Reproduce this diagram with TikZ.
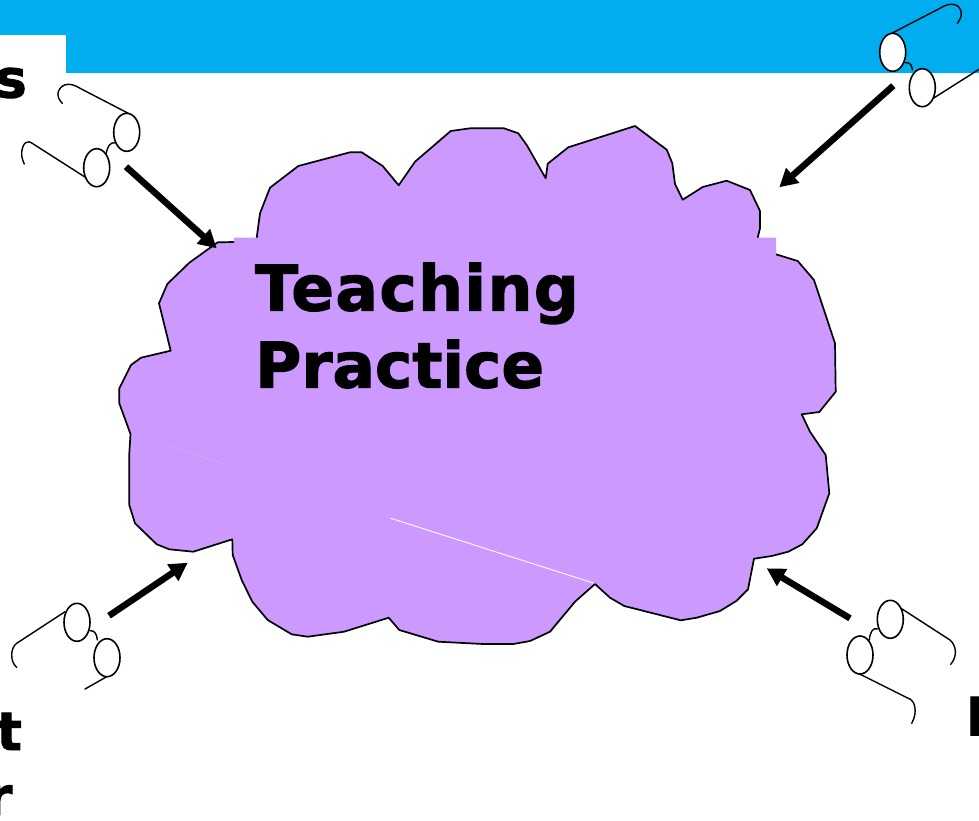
\documentclass[tikz,border=0pt]{standalone}
\usepackage{fontspec}
\setmainfont{DejaVu Sans}[BoldFeatures={FakeBold=1.8}]
\usetikzlibrary{arrows.meta,shapes.geometric}
\definecolor{bandblue}{HTML}{00AEEF}
\definecolor{cloudpurple}{HTML}{CC99FF}
\definecolor{faintline}{HTML}{D4A8FF}
\tikzset{
  cloudline/.style={black,line width=1.7pt,line join=round},
  lens/.style={draw=black,fill=white,line width=1.6pt,ellipse,minimum width=26pt,minimum height=38pt,inner sep=0pt},
  wire/.style={black,line width=1.4pt,line cap=round,line join=round},
  pointer/.style={black,line width=6.5pt,-{Triangle[length=18pt,width=19pt]}},
  bigtext/.style={inner sep=0pt,font=\bfseries\fontsize{63}{77}\selectfont,align=left},
  edgetext/.style={inner sep=0pt,font=\bfseries\fontsize{53}{65}\selectfont},
}
\begin{document}
\begin{tikzpicture}[x=1pt,y=-1pt]
\useasboundingbox (0,0) rectangle (979,820);
\fill[white] (0,0) rectangle (979,820);
% band
\fill[bandblue] (0,0) rectangle (979,35);
\fill[bandblue] (66,35) rectangle (979,73);
% cloud fill
\fill[cloudpurple] (256.7,237.7) -- (260,213.3) -- (270,187.7) -- (298.3,166) -- (350,152.3) -- (361.7,152.3) -- (382.7,166) -- (398.7,185.3) -- (415,161.7) -- (450.7,131) -- (470,128.3) -- (504,128.3) -- (518.3,133.3) -- (526.7,145) -- (545.7,178.3) -- (547.7,163.7) -- (568.3,147.3) -- (635,126) -- (666.7,149.7) -- (672.3,163.3) -- (675,184) -- (682.7,199.7) -- (702.7,187) -- (726.7,180.7) -- (750,190) -- (760,211) -- (760,228.3) -- (757.7,237.7) -- (776,237.7) -- (776,254.3) -- (797.7,261) -- (814,280) -- (835,343.3) -- (835.7,391.7) -- (819.3,412) -- (801.7,414.3) -- (810,431.7) -- (825.7,455) -- (829.3,493.3) -- (816.7,528.3) -- (802.3,544.3) -- (788.3,551.7) -- (771.7,556) -- (754,558.7) -- (748,589.3) -- (736.7,600.7) -- (720,611) -- (696.7,617.7) -- (680.7,620.3) -- (624.3,606) -- (610,597.7) -- (595,584) -- (575,601.7) -- (550,631.7) -- (530,641) -- (513.3,644) -- (483.3,644) -- (438.3,641.7) -- (399.3,630) -- (388.7,617.7) -- (344,631.7) -- (307.7,636.7) -- (291.7,634.3) -- (267.7,620) -- (252.3,601.7) -- (241.7,580) -- (232.7,555) -- (232.3,539.3) -- (193.3,551.7) -- (169.3,549.3) -- (156.7,544.3) -- (135,523.3) -- (129.3,505) -- (129.3,453.3) -- (130.5,434) -- (119.3,403.3) -- (119.3,388.3) -- (131,365) -- (141,357.7) -- (170.7,350.7) -- (159,303.3) -- (167.3,284) -- (189.3,262.7) -- (217.7,242.3) -- (234,242) -- (234,237.7) -- cycle;
% cloud outline, interrupted at the two patches
\draw[cloudline] (256.7,237.7) -- (260,213.3) -- (270,187.7) -- (298.3,166) -- (350,152.3) -- (361.7,152.3) -- (382.7,166) -- (398.7,185.3) -- (415,161.7) -- (450.7,131) -- (470,128.3) -- (504,128.3) -- (518.3,133.3) -- (526.7,145) -- (545.7,178.3) -- (547.7,163.7) -- (568.3,147.3) -- (635,126) -- (666.7,149.7) -- (672.3,163.3) -- (675,184) -- (682.7,199.7) -- (702.7,187) -- (726.7,180.7) -- (750,190) -- (760,211) -- (760,228.3) -- (757.7,237.7);
\draw[cloudline] (776,254.3) -- (797.7,261) -- (814,280) -- (835,343.3) -- (835.7,391.7) -- (819.3,412) -- (801.7,414.3) -- (810,431.7) -- (825.7,455) -- (829.3,493.3) -- (816.7,528.3) -- (802.3,544.3) -- (788.3,551.7) -- (771.7,556) -- (754,558.7) -- (748,589.3) -- (736.7,600.7) -- (720,611) -- (696.7,617.7) -- (680.7,620.3) -- (624.3,606) -- (610,597.7) -- (595,584) -- (575,601.7) -- (550,631.7) -- (530,641) -- (513.3,644) -- (483.3,644) -- (438.3,641.7) -- (399.3,630) -- (388.7,617.7) -- (344,631.7) -- (307.7,636.7) -- (291.7,634.3) -- (267.7,620) -- (252.3,601.7) -- (241.7,580) -- (232.7,555) -- (232.3,539.3) -- (193.3,551.7) -- (169.3,549.3) -- (156.7,544.3) -- (135,523.3) -- (129.3,505) -- (129.3,453.3) -- (130.5,434) -- (119.3,403.3) -- (119.3,388.3) -- (131,365) -- (141,357.7) -- (170.7,350.7) -- (159,303.3) -- (167.3,284) -- (189.3,262.7) -- (217.7,242.3) -- (234,242);
% seams
\draw[white,line width=0.9pt] (390.7,518.3) -- (594.3,583.3);
\draw[faintline,line width=0.6pt] (165,445) -- (233.3,466.7);
% text
\node[bigtext,anchor=north west] (title) at (255,262.5) {{\addfontfeature{LetterSpace=2.3}Teaching}\\Practice};
\node[edgetext,anchor=base east] (ltop) at (27,97.5) {s};
\node[edgetext,anchor=base east] (lbot) at (22,750) {t};
\node[edgetext,anchor=base east] (lbotb) at (12.5,815) {r};
\node[edgetext,anchor=base west] (rbot) at (965.7,735.5) {I};
% glasses, top left
\draw[wire] (128.3,113.3) -- (80,88.3) .. controls (72,83) and (62,82) .. (58.3,91.7) .. controls (57,96) and (59,100) .. (62.3,103.3);
\draw[wire] (86,177.7) -- (33.3,144) .. controls (27,139) and (23,143) .. (21.7,151.7) .. controls (21.5,157) and (22.5,160) .. (24.3,164);
\draw[wire] (106,155) .. controls (107,147) and (110,142) .. (115,142.7);
\node[lens] (tl1) at (126.7,132.3) {};
\node[lens] (tl2) at (96.7,167.7) {};
% glasses, top right
\draw[wire] (891.7,33.3) -- (940,8.3) .. controls (948,3) and (958,2) .. (961,11) .. controls (962,16) and (960,20) .. (957.3,23.3);
\draw[wire] (933.3,98.3) -- (979,69.3);
\draw[wire] (905,62.7) .. controls (910,62) and (912,65) .. (912.3,70);
\node[lens] (tr1) at (892.7,52.3) {};
\node[lens] (tr2) at (922.3,87.7) {};
% glasses, bottom left
\draw[wire] (65,611.7) -- (16.7,643.3) .. controls (10,648) and (10,662) .. (16.7,667.3);
\draw[wire] (106.7,676.7) -- (85,689);
\draw[wire] (90,630.7) .. controls (95,630) and (97,635) .. (97.3,640);
\node[lens] (bl1) at (77,622.3) {};
\node[lens] (bl2) at (107,657.7) {};
% glasses, bottom right
\draw[wire] (901,608.3) -- (950,640) .. controls (956,645) and (958,656) .. (950.7,664.3);
\draw[wire] (858.3,673.3) -- (908.3,698.3) .. controls (915,700) and (918,712) .. (911.7,723.3);
\draw[wire] (869.3,640) .. controls (870,632) and (873,627) .. (877.7,629);
\node[lens] (br1) at (890.3,619.3) {};
\node[lens] (br2) at (860,655) {};
% arrows
\coordinate (atl) at (126,166.7); \coordinate (ctl) at (216.7,248.3);
\coordinate (atr) at (893.3,85.7); \coordinate (ctr) at (779.3,187.3);
\coordinate (abl) at (109,615.7); \coordinate (cbl) at (187.7,562.7);
\coordinate (abr) at (850,618.3); \coordinate (cbr) at (766.7,568.3);
\draw[pointer] (atl) -- (ctl);
\draw[pointer] (atr) -- (ctr);
\draw[pointer] (abl) -- (cbl);
\draw[pointer] (abr) -- (cbr);
\end{tikzpicture}
\end{document}
